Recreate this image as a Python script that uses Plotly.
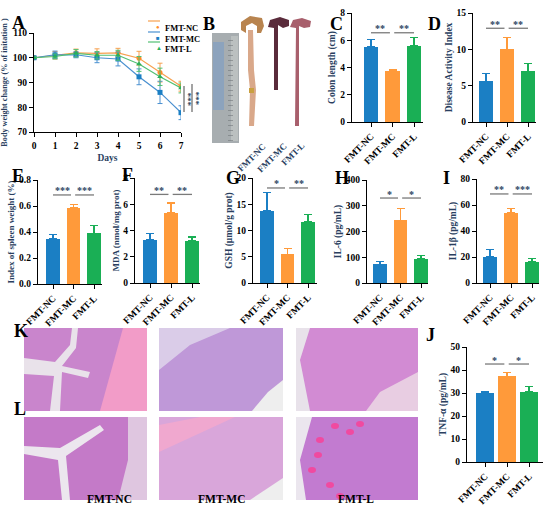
import plotly.graph_objects as go

W, H = 550, 516
FONT = "Liberation Serif"

# ---------------- data ----------------
groups = ["FMT-NC", "FMT-MC", "FMT-L"]
days = [0, 1, 2, 3, 4, 5, 6, 7]
bw_nc = [100, 101.0, 102.0, 101.8, 102.0, 99.8, 94.0, 88.5]
bw_nc_err = [0.4, 1.5, 1.5, 1.8, 1.8, 2.8, 3.8, 2.0]
bw_mc = [100, 101.2, 101.2, 100.0, 99.5, 92.3, 86.0, 77.8]
bw_mc_err = [0.4, 1.5, 1.2, 2.0, 2.8, 3.2, 4.5, 2.8]
bw_l = [100, 100.5, 101.8, 101.0, 101.0, 97.5, 92.3, 87.8]
bw_l_err = [0.4, 1.0, 1.5, 1.5, 2.0, 3.0, 3.5, 2.0]

colon_len = [5.5, 3.75, 5.6]
colon_len_err = [0.55, 0.12, 0.6]
dai = [5.6, 10.0, 7.0]
dai_err = [1.1, 1.6, 1.0]
spleen = [0.35, 0.585, 0.39]
spleen_err = [0.03, 0.025, 0.06]
mda = [3.3, 5.35, 3.2]
mda_err = [0.45, 0.75, 0.3]
gsh = [13.8, 5.5, 11.7]
gsh_err = [3.5, 1.0, 1.4]
il6 = [73, 243, 93]
il6_err = [12, 45, 15]
il1b = [20, 54, 16.5]
il1b_err = [6, 3.5, 2.5]
tnf = [30.2, 37.2, 30.5]
tnf_err = [0.6, 1.6, 2.3]

bar_colors = ["#1b7fc4", "#ff9a3a", "#1aaf55"]
line_colors = ["#f7a04f", "#4a90d0", "#52c072"]
marker_colors = ["#ff8c2a", "#1b7fc4", "#28b05a"]
marker_symbols = ["circle", "square", "triangle-up"]
legend_glyphs = ["●", "■", "▲"]


def px_x(p):
    return p / W


def px_y(p):
    return 1 - p / H


def dom_x(a, b):
    return [a / W, b / W]


def dom_y(top, bottom):
    return [1 - bottom / H, 1 - top / H]


fig = go.Figure()
tickfont = dict(family=FONT, size=9.5, color="black", weight="bold")
axis_common = dict(showline=True, linecolor="black", linewidth=1.3, ticks="outside",
                   ticklen=4, tickwidth=1.2, tickcolor="black", showgrid=False,
                   zeroline=False, tickfont=tickfont, automargin=False)

# ---------------- panel A ----------------
series = [(bw_nc, bw_nc_err), (bw_mc, bw_mc_err), (bw_l, bw_l_err)]
for i, (vals, err) in enumerate(series):
    fig.add_trace(go.Scatter(
        x=days, y=vals, name=groups[i], mode="lines+markers", showlegend=False,
        line=dict(color=line_colors[i], width=1.2),
        marker=dict(color=marker_colors[i], symbol=marker_symbols[i], size=5),
        error_y=dict(type="data", array=err, color=line_colors[i], thickness=1, width=2.5),
        xaxis="x", yaxis="y"))

fig.update_layout(
    xaxis=dict(domain=dom_x(34, 181), range=[0, 7], tickvals=days, anchor="y",
               title=dict(text="Days", font=dict(family=FONT, size=9.5, weight="bold"), standoff=4),
               **axis_common),
    yaxis=dict(domain=dom_y(33, 132), range=[70, 110], tickvals=[70, 80, 90, 100, 110], anchor="x",
               title=dict(text="Body weight change (% of initation )",
                          font=dict(family=FONT, size=8.2, weight="bold"), standoff=3),
               **axis_common),
)

# manual compact legend for A
for i, yy in enumerate([21, 32, 42]):
    fig.add_shape(type="line", xref="paper", yref="paper", x0=px_x(148), x1=px_x(160),
                  y0=px_y(yy), y1=px_y(yy), line=dict(color=line_colors[i], width=1.2))
    fig.add_annotation(xref="paper", yref="paper", x=px_x(154), y=px_y(yy), text=legend_glyphs[i],
                       showarrow=False, font=dict(size=6, color=marker_colors[i]))
    fig.add_annotation(xref="paper", yref="paper", x=px_x(163), y=px_y(yy), text=groups[i],
                       xanchor="left", showarrow=False,
                       font=dict(family=FONT, size=8.5, weight="bold", color="black"))

# brackets for A
for xp, y0, y1, xs in [(184, 78.1, 88.6, 188.5), (192, 78.1, 89.4, 196.5)]:
    fig.add_shape(type="line", xref="paper", yref="y", x0=px_x(xp), x1=px_x(xp), y0=y0, y1=y1,
                  line=dict(color="#666", width=1.2))
    fig.add_annotation(xref="paper", yref="y", x=px_x(xs), y=(y0 + y1) / 2, text="***",
                       textangle=90, showarrow=False, font=dict(family=FONT, size=9, weight="bold"))

# ---------------- bar panels ----------------
panels = [
    # idx, values, err, ymax, yticks, title, title size, left, bar0, bar2, right, top, bottom, width, sig, sig_y, fmt
    (2, colon_len, colon_len_err, 8, [0, 2, 4, 6, 8], "Colon length (cm)", 9.5, 352, 371, 414, 423, 13, 122, 0.66, ["**", "**"], 6.55, ""),
    (3, dai, dai_err, 15, [0, 5, 10, 15], "Disease Activity Index", 9.5, 473, 486, 528, 536, 13, 122, 0.66, ["**", "**"], 12.9, ""),
    (4, spleen, spleen_err, 0.8, [0, 0.2, 0.4, 0.6, 0.8], "Index of spleen weight (%)", 9, 38, 53, 94, 102, 180, 284, 0.68, ["***", "***"], 0.685, ".1f"),
    (5, mda, mda_err, 8, [0, 2, 4, 6, 8], "MDA (nmol/mg prot)", 9, 135, 150, 192, 200, 178, 283, 0.68, ["**", "**"], 6.75, ""),
    (6, gsh, gsh_err, 20, [0, 5, 10, 15, 20], "GSH (μmol/g prot)", 9.5, 253, 267, 308, 317, 178, 283, 0.68, ["*", "**"], 18.1, ""),
    (7, il6, il6_err, 400, [0, 100, 200, 300, 400], "IL-6 (pg/mL)", 9.5, 367, 380, 421, 428, 180, 283, 0.68, ["*", "*"], 330, ""),
    (8, il1b, il1b_err, 80, [0, 20, 40, 60, 80], "IL-1β (pg/mL)", 9.5, 477, 490, 532, 539, 179, 283, 0.68, ["**", "***"], 68.5, ""),
    (9, tnf, tnf_err, 50, [0, 10, 20, 30, 40, 50], "TNF-α (pg/mL)", 9.5, 467, 485, 529, 543, 347, 462, 0.8, ["*", "*"], 42.6, ""),
]

for (k, vals, err, ymax, yt, title, tsize, left, b0, b2, right, top, bottom, bwid, sig, sy, fmt) in panels:
    s = (b2 - b0) / 2
    xr = [-(b0 - left) / s, 2 + (right - b2) / s]
    xa, ya = f"x{k}", f"y{k}"
    for i in range(3):
        fig.add_trace(go.Bar(
            x=[i], y=[vals[i]], width=bwid, marker=dict(color=bar_colors[i], line=dict(width=0)),
            error_y=dict(type="data", array=[err[i]], arrayminus=[0], symmetric=False,
                         color=bar_colors[i], thickness=1.2, width=4),
            showlegend=False, xaxis=xa, yaxis=ya))
    fig.update_layout({
        f"xaxis{k}": dict(domain=dom_x(left, right), range=xr, tickvals=[0, 1, 2], ticktext=groups,
                          tickangle=-45, anchor=ya, **axis_common),
        f"yaxis{k}": dict(domain=dom_y(top, bottom), range=[0, ymax], tickvals=yt, anchor=xa,
                          tickformat=fmt,
                          title=dict(text=title, font=dict(family=FONT, size=tsize, weight="bold"), standoff=2),
                          **axis_common),
    })
    for (x0, x1), t in zip([(0.0, 0.88), (1.08, 2.0)], sig):
        fig.add_shape(type="line", xref=xa, yref=ya, x0=x0, x1=x1, y0=sy, y1=sy,
                      line=dict(color="#7a7a7a", width=1.3))
        fig.add_annotation(xref=xa, yref=ya, x=(x0 + x1) / 2, y=sy, yshift=4, text=t, showarrow=False,
                           font=dict(family=FONT, size=10, weight="bold"))


# ---------------- photos (B, K, L) drawn as shapes ----------------
def rect(x0, y0, x1, y1, color, opacity=1.0):
    fig.add_shape(type="rect", xref="paper", yref="paper", x0=px_x(x0), x1=px_x(x1),
                  y0=px_y(y1), y1=px_y(y0), fillcolor=color, opacity=opacity, line=dict(width=0))


def ell(x0, y0, x1, y1, color, opacity=1.0):
    fig.add_shape(type="circle", xref="paper", yref="paper", x0=px_x(x0), x1=px_x(x1),
                  y0=px_y(y1), y1=px_y(y0), fillcolor=color, opacity=opacity, line=dict(width=0))


def poly(pts, color, opacity=1.0):
    path = "M " + " L ".join(f"{px_x(a):.5f},{px_y(b):.5f}" for a, b in pts) + " Z"
    fig.add_shape(type="path", xref="paper", yref="paper", path=path, fillcolor=color,
                  opacity=opacity, line=dict(width=0))


# panel B: ruler and colons
rect(212, 33, 239, 143, "#a7adb0")
rect(213, 42, 224, 110, "#86a0c0", 0.8)
rect(231, 36, 238, 141, "#c3c7c7", 0.7)
for yy in range(40, 142, 5):
    rect(228, yy, 233, yy + 0.8, "#6f7578", 0.7)
poly([(241, 30), (241, 22), (250, 16), (262, 18), (264, 26), (261, 33), (257, 33), (257, 26), (252, 23), (246, 26), (246, 33)], "#b8844f")
poly([(248, 30), (253, 30), (254, 70), (256, 90), (254, 126), (249, 126), (250, 90), (248, 70)], "#d9a88a")
rect(249, 88, 254, 93, "#c9a040")
poly([(268, 27), (270, 20), (280, 17), (289, 20), (289, 26), (283, 28), (278, 25), (278, 90), (274, 90), (274, 28)], "#5a2b3b")
poly([(290, 27), (293, 20), (302, 18), (311, 21), (310, 27), (304, 28), (299, 26), (299, 126), (295, 126), (296, 28)], "#a85f6c")
for x, y, t in [(251, 139, "FMT-NC"), (272, 139, "FMT-MC"), (293, 138, "FMT-L")]:
    fig.add_annotation(xref="paper", yref="paper", x=px_x(x), y=px_y(y), text=t, textangle=-45,
                       showarrow=False, font=dict(family=FONT, size=9, weight="bold"))

# panel K
rect(24, 328, 147, 411, "#c985cc")
poly([(24, 358), (55, 362), (70, 345), (72, 328), (78, 328), (76, 348), (62, 366), (90, 372), (88, 378),
      (62, 372), (60, 411), (50, 411), (54, 376), (24, 374)], "#e9e2ea")
poly([(123, 328), (147, 328), (147, 411), (100, 411)], "#f29cc8")
rect(159, 328, 283, 411, "#bf98d8")
poly([(159, 328), (230, 328), (190, 345), (159, 370)], "#ddd1ea", 0.9)
poly([(283, 380), (283, 411), (252, 411), (268, 392)], "#eeeeee")
rect(296, 328, 418, 411, "#d28bd3")
poly([(296, 328), (310, 328), (300, 360), (310, 411), (296, 411)], "#e8e2ea")
poly([(380, 392), (418, 372), (418, 411), (366, 411)], "#e8cde2")

# panel L
rect(24, 417, 147, 500, "#c47ac8")
poly([(24, 446), (60, 448), (100, 425), (104, 430), (66, 456), (70, 500), (62, 500), (58, 460), (24, 454)], "#ece6ee")
poly([(128, 417), (147, 417), (147, 500), (118, 500), (128, 460)], "#dfc6e0")
rect(159, 417, 283, 500, "#d9a6da")
poly([(159, 425), (200, 417), (235, 417), (159, 452)], "#f0a8cf")
poly([(283, 478), (283, 500), (250, 500), (268, 488)], "#eeeeee")
rect(296, 417, 418, 500, "#c27bd0")
poly([(296, 417), (312, 417), (300, 460), (306, 500), (296, 500)], "#ebe6ee")
for cx, cy in [(320, 440), (335, 426), (312, 470), (330, 485), (350, 432), (318, 455), (360, 424), (340, 496)]:
    ell(cx - 4, cy - 3, cx + 4, cy + 3, "#f04aa0")

for x, t in [(85, "FMT-NC"), (221, "FMT-MC"), (356, "FMT-L")]:
    fig.add_annotation(xref="paper", yref="paper", x=px_x(x), y=px_y(507), text=t, showarrow=False,
                       font=dict(family=FONT, size=11.5, weight="bold", color="black"))

# panel letters
for t, x, y in [("A", 10, 11), ("B", 209, 12), ("C", 336, 12), ("D", 443, 12), ("E", 10, 176),
                ("F", 120, 175), ("G", 233, 178), ("H", 342, 178), ("I", 452, 178),
                ("K", 12, 331), ("L", 12, 421), ("J", 437, 335)]:
    fig.add_annotation(xref="paper", yref="paper", x=px_x(x), y=px_y(y), text=t, showarrow=False,
                       font=dict(family=FONT, size=18, weight="bold", color="black"))

fig.update_layout(
    width=W, height=H, margin=dict(l=0, r=0, t=0, b=0, autoexpand=False),
    paper_bgcolor="white", plot_bgcolor="white", bargap=0,
    showlegend=False,
)

fig.write_html("out.html", config={"displayModeBar": False},
               post_script="document.body.style.margin='0px';document.body.style.overflow='hidden';")
